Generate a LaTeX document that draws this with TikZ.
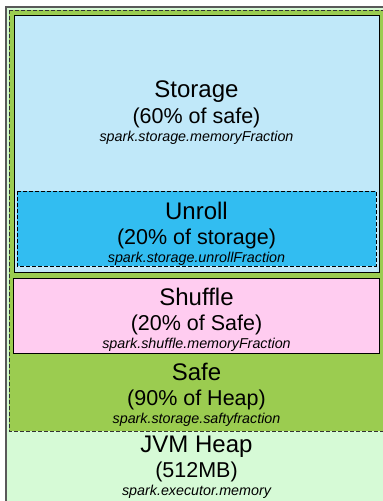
\documentclass[tikz,border=0pt]{standalone}
\usepackage{fontspec}
\setmainfont{Liberation Sans}
\definecolor{heapgreen}{HTML}{D6FAD6}
\definecolor{safegreen}{HTML}{9BCC50}
\definecolor{storeblue}{HTML}{C0E8F9}
\definecolor{unrollblue}{HTML}{32BDF1}
\definecolor{shufflepink}{HTML}{FFCCF0}
\begin{document}
\begin{tikzpicture}[x=1pt,y=-1pt,
  big/.style={font=\fontsize{24}{26}\selectfont,inner sep=0pt},
  mid/.style={font=\fontsize{21.5}{24}\selectfont,inner sep=0pt},
  prop/.style={font=\fontsize{14.3}{16}\selectfont\itshape,inner sep=0pt},
  dashbox/.style={dash pattern=on 4pt off 2pt}]

\useasboundingbox (0,0) rectangle (383,501);

\begin{scope}
\clip (0,0) rectangle (383,501);
%JVM heap
\draw [line width=1.4pt,draw=black!65,fill=heapgreen] (6,7) rectangle (400,520);
%Safe
\draw [semithick,dashbox,draw=black!80,fill=safegreen] (9,10) rectangle (400,431);
\end{scope}

%Storage
\draw [semithick,fill=storeblue] (14,15) rectangle (379,272);
%Unroll
\draw [thin,dashbox,fill=unrollblue] (17,191) rectangle (376,266);
%Shuffle
\draw [semithick,fill=shufflepink] (13,278) rectangle (379.5,353);

\node[big]  (st1) at (196.5,92) {Storage};
\node[mid]  (st2) at (196.5,118) {(60\% of safe)};
\node[prop] (st3) at (196.5,137.5) {spark.storage.memoryFraction};

\node[big]  (un1) at (196.5,211) {Unroll};
\node[mid]  (un2) at (196.5,239) {(20\% of storage)};
\node[prop] (un3) at (196.5,258.5) {spark.storage.unrollFraction};

\node[big]  (sh1) at (196.5,297) {Shuffle};
\node[mid]  (sh2) at (196.5,325) {(20\% of Safe)};
\node[prop] (sh3) at (196.5,344.5) {spark.shuffle.memoryFraction};

\node[big]  (sa1) at (196.5,372) {Safe};
\node[mid]  (sa2) at (196.5,400) {(90\% of Heap)};
\node[prop] (sa3) at (196.5,419.5) {spark.storage.saftyfraction};

\node[big]  (jv1) at (196.5,447) {JVM Heap};
\node[mid]  (jv2) at (196.5,472) {(512MB)};
\node[prop] (jv3) at (196.5,491.5) {spark.executor.memory};
\end{tikzpicture}
\end{document}
